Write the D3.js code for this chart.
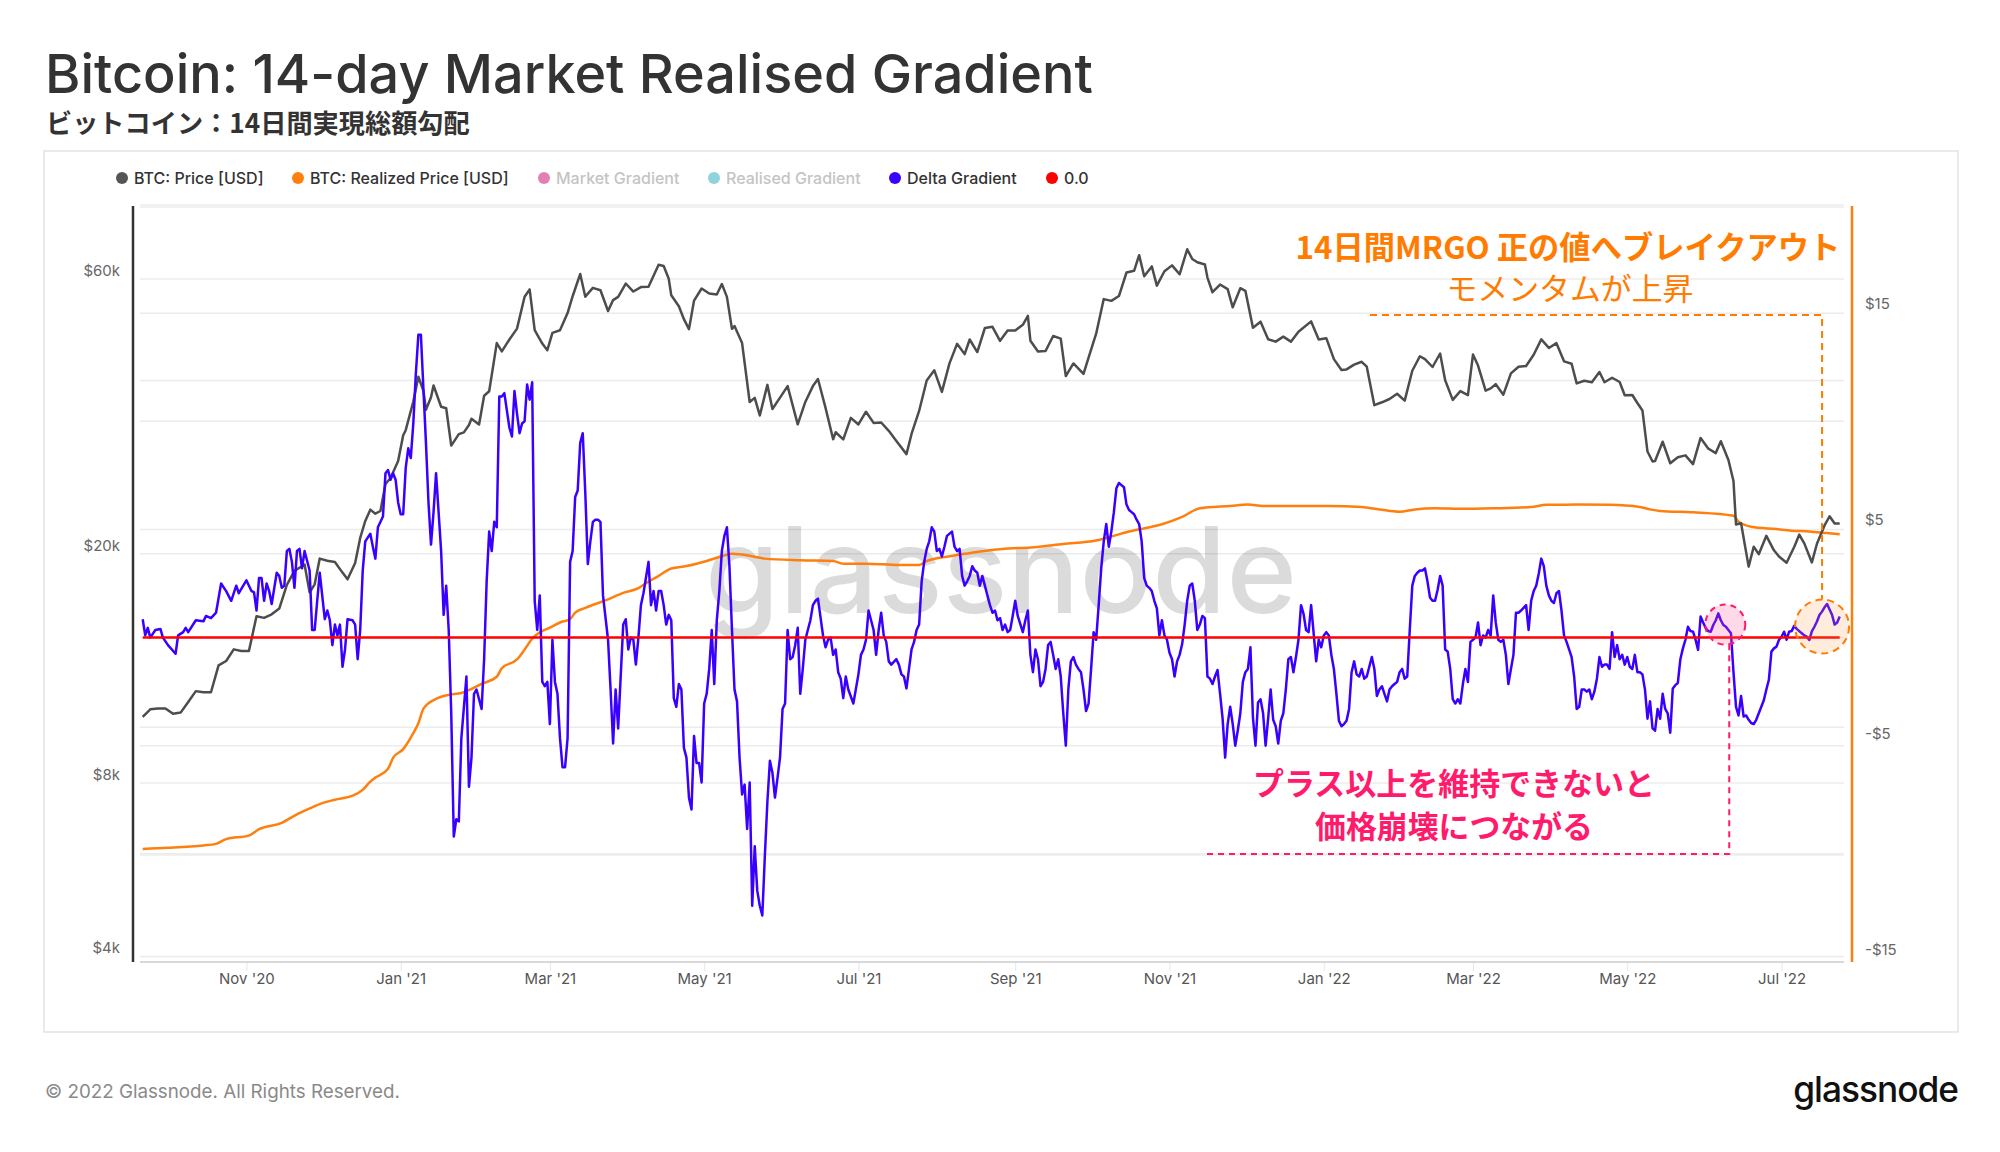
<!DOCTYPE html>
<html><head><meta charset="utf-8">
<script src="https://cdn.jsdelivr.net/npm/d3@7"></script>
<style>body{margin:0;background:#fff;} svg{display:block}</style>
</head><body>
<svg id="chart" width="2000" height="1152"></svg>
<script>
// ---------------- DATA ----------------
const startDate = "2020-09-21";
const endDay = 671;

const titleText = "Bitcoin: 14-day Market Realised Gradient";
const subtitleText = "ビットコイン：14日間実現総額勾配";
const legendLabels = ["BTC: Price [USD]", "BTC: Realized Price [USD]", "Market Gradient", "Realised Gradient", "Delta Gradient", "0.0"];
const legendColors = ["#555555", "#ff7f0e", "#d6579a", "#6ac5d2", "#3a00ff", "#ff0000"];
const legendActive = [true, true, false, false, true, true];

const leftTickValues = [4000, 8000, 20000, 60000];
const leftGridValues = [4000, 6000, 8000, 10000, 20000, 40000, 60000, 80000];
const rightTickValues = [-15, -5, 5, 15];
const rightGridValues = [-15, -10, -5, 0, 5, 10, 15, 20];

const priceSeries = [
["2020-09-21",10420],["2020-09-24",10740],["2020-09-27",10780],["2020-09-30",10780],["2020-10-03",10550],["2020-10-06",10600],
["2020-10-09",11060],["2020-10-12",11550],["2020-10-15",11500],["2020-10-18",11500],["2020-10-21",12800],["2020-10-24",13030],
["2020-10-27",13650],["2020-10-30",13560],["2020-11-02",13560],["2020-11-05",15580],["2020-11-08",15480],["2020-11-11",15700],
["2020-11-14",16070],["2020-11-17",17660],["2020-11-20",18680],["2020-11-24",19160],["2020-11-26",17140],["2020-11-28",17700],
["2020-11-30",19620],["2020-12-03",19450],["2020-12-06",19360],["2020-12-09",18550],["2020-12-11",18060],["2020-12-14",19270],
["2020-12-16",21310],["2020-12-18",22800],["2020-12-20",23860],["2020-12-22",23480],["2020-12-24",23730],["2020-12-26",26440],
["2020-12-28",27080],["2020-12-31",28990],["2021-01-02",32130],["2021-01-03",32780],["2021-01-06",36770],["2021-01-08",40580],
["2021-01-10",38360],["2021-01-11",35570],["2021-01-13",37400],["2021-01-14",39190],["2021-01-17",36000],["2021-01-19",35790],
["2021-01-21",30820],["2021-01-24",32270],["2021-01-26",32500],["2021-01-28",33470],["2021-01-29",34320],["2021-02-01",33540],
["2021-02-03",37620],["2021-02-05",38300],["2021-02-08",46430],["2021-02-10",44920],["2021-02-13",47110],["2021-02-16",49200],
["2021-02-19",55890],["2021-02-21",57540],["2021-02-23",48890],["2021-02-26",46340],["2021-02-28",45140],["2021-03-02",48380],
["2021-03-05",48880],["2021-03-08",52360],["2021-03-10",56000],["2021-03-13",61200],["2021-03-15",55900],["2021-03-18",57900],
["2021-03-21",57350],["2021-03-24",52780],["2021-03-26",55140],["2021-03-28",55860],["2021-03-31",58920],["2021-04-03",57060],
["2021-04-06",58080],["2021-04-09",58140],["2021-04-13",63500],["2021-04-15",63200],["2021-04-17",60050],["2021-04-18",56200],
["2021-04-21",53800],["2021-04-23",51090],["2021-04-25",49100],["2021-04-27",55030],["2021-04-30",57750],["2021-05-03",56620],
["2021-05-06",56400],["2021-05-08",58800],["2021-05-10",55860],["2021-05-12",49150],["2021-05-13",49720],["2021-05-16",46430],
["2021-05-19",36690],["2021-05-21",37300],["2021-05-23",34770],["2021-05-26",39290],["2021-05-28",35680],["2021-05-31",37330],
["2021-06-03",39100],["2021-06-07",33560],["2021-06-10",36700],["2021-06-13",39100],["2021-06-15",40220],["2021-06-18",35840],
["2021-06-21",31620],["2021-06-22",32510],["2021-06-25",31600],["2021-06-28",34430],["2021-07-01",33540],["2021-07-04",35290],
["2021-07-07",33750],["2021-07-10",33800],["2021-07-13",32700],["2021-07-16",31400],["2021-07-20",29790],["2021-07-22",32290],
["2021-07-25",35400],["2021-07-28",39990],["2021-07-31",41640],["2021-08-03",38200],["2021-08-06",42820],["2021-08-09",46290],
["2021-08-12",44430],["2021-08-14",47100],["2021-08-17",44800],["2021-08-20",49320],["2021-08-23",49550],["2021-08-26",46850],
["2021-08-29",48810],["2021-09-01",48850],["2021-09-04",49950],["2021-09-06",51770],["2021-09-07",46870],["2021-09-10",44900],
["2021-09-13",44990],["2021-09-16",47770],["2021-09-19",47260],["2021-09-21",40700],["2021-09-24",42800],["2021-09-28",41050],
["2021-09-30",43800],["2021-10-03",48200],["2021-10-06",55360],["2021-10-09",54970],["2021-10-12",56040],["2021-10-15",61570],
["2021-10-18",61980],["2021-10-20",65990],["2021-10-22",60650],["2021-10-25",63080],["2021-10-27",58420],["2021-10-30",61890],
["2021-11-02",63350],["2021-11-05",61130],["2021-11-08",67550],["2021-11-10",64990],["2021-11-12",64150],["2021-11-15",63570],
["2021-11-16",60340],["2021-11-18",56900],["2021-11-21",58680],["2021-11-24",57600],["2021-11-26",53570],["2021-11-29",57830],
["2021-12-01",57230],["2021-12-04",49370],["2021-12-07",50580],["2021-12-10",47150],["2021-12-13",46700],["2021-12-16",47640],
["2021-12-19",46700],["2021-12-22",48600],["2021-12-27",50640],["2021-12-30",47120],["2022-01-02",47350],["2022-01-05",43550],
["2022-01-08",41700],["2022-01-10",41800],["2022-01-13",42600],["2022-01-16",43090],["2022-01-18",42250],["2022-01-21",36230],
["2022-01-24",36650],["2022-01-27",37130],["2022-01-30",37920],["2022-02-02",36900],["2022-02-05",41570],["2022-02-08",44050],
["2022-02-10",43560],["2022-02-13",42200],["2022-02-16",44540],["2022-02-18",40030],["2022-02-21",37000],["2022-02-24",38330],
["2022-02-27",37710],["2022-03-01",44350],["2022-03-03",42450],["2022-03-06",38400],["2022-03-08",38740],["2022-03-10",39400],
["2022-03-13",37780],["2022-03-16",41140],["2022-03-19",42240],["2022-03-22",42370],["2022-03-25",44330],["2022-03-28",47130],
["2022-03-31",45540],["2022-04-03",46420],["2022-04-06",43170],["2022-04-09",42750],["2022-04-11",39530],["2022-04-14",39950],
["2022-04-17",39720],["2022-04-20",41370],["2022-04-22",39710],["2022-04-25",40430],["2022-04-28",39740],["2022-04-30",37700],
["2022-05-03",37730],["2022-05-05",36540],["2022-05-07",35470],["2022-05-09",30100],["2022-05-11",28930],["2022-05-12",28990],
["2022-05-15",31300],["2022-05-18",28720],["2022-05-21",29430],["2022-05-24",29640],["2022-05-27",28620],["2022-05-30",31780],
["2022-06-02",30470],["2022-06-05",29910],["2022-06-07",31370],["2022-06-10",29100],["2022-06-12",26760],["2022-06-13",22490],
["2022-06-15",22600],["2022-06-18",19000],["2022-06-20",20570],["2022-06-22",19970],["2022-06-25",21490],["2022-06-28",20280],
["2022-06-30",19790],["2022-07-03",19300],["2022-07-06",20550],["2022-07-08",21590],["2022-07-10",20850],["2022-07-13",19320],
["2022-07-15",20820],["2022-07-18",22400],["2022-07-20",23240],["2022-07-22",22580],["2022-07-24",22580]
];

// [day since startDate, USD]
const realizedSeries = [
[0,10450],[10,10490],[24,10580],[29,10640],[33,10820],[42,10950],[46,11190],[55,11430],[61,11750],[66,11970],
[71,12170],[76,12300],[83,12450],[87,12670],[90,12980],[92,13130],[97,13460],[99,13870],[103,14200],[107,14800],
[109,15170],[111,15720],[116,16090],[121,16240],[126,16310],[130,16460],[134,16650],[140,16920],[142,17240],[148,17570],
[151,17940],[154,18350],[157,18590],[161,18770],[165,18960],[169,19090],[171,19330],[175,19510],[183,19790],[190,20070],
[196,20250],[199,20440],[204,20710],[209,20990],[215,21080],[223,21270],[229,21450],[233,21540],[241,21450],[246,21360],
[260,21300],[273,21270],[277,21170],[286,21170],[299,21120],[307,21120],[310,21270],[319,21450],[325,21540],[332,21640],
[341,21730],[351,21780],[364,21910],[377,22040],[390,22380],[403,22650],[411,22930],[418,23250],[430,23340],[437,23390],
[443,23340],[456,23340],[469,23340],[482,23300],[489,23210],[497,23120],[503,23210],[511,23250],[521,23230],[534,23250],
[549,23300],[555,23380],[567,23390],[580,23380],[592,23300],[596,23210],[600,23150],[613,23100],[629,22970],[631,22750],
[636,22560],[646,22470],[652,22410],[659,22380],[666,22320],[671,22280]
];

// [day since startDate, delta gradient USD]
const deltaSeries = [
[0,0.85],[1,0.1],[2,0.45],[3,0.0],[5,0.35],[7,0.4],[8,0.0],[10,-0.35],[13,-0.75],[14,0.1],[16,0.25],[17,0.45],[18,0.25],
[21,0.8],[24,0.75],[25,1.0],[27,0.9],[29,1.15],[31,2.5],[33,2.15],[35,1.7],[37,2.4],[38,2.05],[41,2.65],[43,2.15],[44,2.1],
[45,1.25],[46,2.75],[47,2.75],[48,1.7],[49,2.5],[50,2.15],[51,1.55],[53,3.0],[54,2.85],[55,2.3],[56,2.4],[57,4.0],[58,4.1],
[59,3.5],[60,2.3],[61,4.0],[62,4.1],[63,3.2],[64,4.0],[66,3.1],[67,0.35],[68,0.35],[69,1.7],[70,3.0],[72,0.85],[73,1.25],
[74,0.8],[75,-0.35],[76,0.6],[77,0.1],[78,0.6],[79,-1.35],[80,-0.55],[81,0.85],[83,0.8],[84,0.6],[85,-1.0],[86,0.35],[87,3.1],
[88,4.45],[90,4.8],[91,4.2],[92,3.65],[93,5.1],[95,5.6],[96,7.6],[97,7.75],[98,7.3],[99,7.6],[100,7.3],[101,6.25],[102,5.7],
[103,5.7],[104,7.85],[105,8.75],[106,8.3],[107,9.9],[108,12.2],[109,14.0],[110,14.0],[111,11.5],[112,9.0],[113,6.25],[114,4.3],
[115,5.8],[116,7.6],[117,5.8],[118,4.0],[119,1.05],[120,2.4],[121,0.35],[122,-3.5],[123,-9.2],[124,-8.4],[125,-8.5],[126,-4.65],
[128,-1.8],[129,-6.9],[130,-5.55],[131,-2.6],[132,-2.4],[134,-3.3],[135,-1.0],[136,2.6],[137,4.9],[138,4.0],[139,5.35],[140,5.1],
[141,11.15],[142,11.15],[143,11.3],[145,9.7],[146,9.3],[147,11.4],[148,10.35],[149,9.45],[150,9.9],[151,10.0],[152,11.7],[153,11.0],
[154,11.8],[155,1.7],[156,0.35],[157,1.95],[158,-2.05],[159,-2.25],[160,-2.05],[161,-4.0],[162,-0.1],[163,-2.05],[164,-2.6],
[165,-4.65],[166,-6.0],[167,-6.0],[168,-4.65],[169,3.5],[170,4.0],[171,6.5],
[172,6.8],[173,9.0],[174,9.45],[175,6.7],[176,3.4],[177,4.45],[178,5.35],[179,5.45],[180,5.45],[181,5.35],[182,1.95],[184,-0.1],
[185,-2.4],[186,-4.9],[187,-2.4],[188,-4.2],[190,0.6],[191,0.85],[192,-0.55],[193,0.0],[194,-0.1],[195,-1.25],[196,0.0],[197,1.5],
[198,2.05],[200,3.5],[201,1.5],[202,2.15],[203,1.25],[204,2.15],[205,2.15],[206,1.5],[207,0.6],[208,1.05],[209,0.8],[210,-2.8],
[211,-3.2],[212,-2.15],[213,-2.4],[214,-5.1],[215,-5.55],[216,-7.4],[217,-7.95],[218,-4.55],[219,-5.8],[220,-5.8],[221,-6.7],
[222,-3.05],[223,-2.6],[224,-1.45],[225,0.35],[226,-2.15],[227,0.8],[228,2.15],[229,4.0],[230,4.7],[231,5.1],[232,3.3],[233,0.35],
[234,-2.4],[235,-2.95],[236,-5.55],[237,-7.25],[238,-6.8],[239,-8.85],[240,-6.7],[241,-12.4],[242,-9.65],[243,-11.7],[244,-12.4],
[245,-12.85],[246,-10.1],[247,-7.6],[248,-5.7],[249,-6.25],[250,-7.4],[251,-6.5],[252,-5.55],[253,-3.3],[254,-3.05],[255,0.35],
[256,-1.0],[257,-0.9],[258,-0.35],[259,0.45],[260,-2.6],[261,-1.45],[262,-0.1],[264,0.8],[265,1.5],[266,1.7],[267,1.8],[269,0.1],
[270,-0.45],[271,-0.1],[272,0.0],[273,-0.8],[274,-0.55],[275,-1.6],[276,-1.9],[277,-2.8],[278,-1.8],[279,-2.4],[281,-3.05],
[283,-1.7],[284,-0.8],[285,-0.55],[286,-0.1],[287,1.25],[288,0.8],[289,0.35],[290,-0.8],[291,0.35],[292,1.15],[293,0.1],[294,-0.2],
[295,-1.1],[296,-1.25],[298,-1.0],[299,-1.25],[300,-1.7],[301,-1.8],[302,-2.35],[303,-1.45],[304,-0.55],[305,-0.2],[306,0.35],
[307,0.6],[308,2.6],[309,3.5],[310,4.1],[311,4.45],[312,5.1],[313,4.9],[314,4.0],[315,4.1],[316,3.75],[317,4.2],[318,4.7],[320,4.9],
[321,4.2],[322,4.0],[323,4.1],[324,2.85],[325,2.4],[326,2.6],[327,2.85],[328,3.3],[329,3.1],[330,3.0],[331,2.4],[332,2.85],[333,2.4],
[334,1.95],[335,1.5],[336,1.15],[337,1.25],[338,0.8],[339,0.9],[340,0.35],
[341,0.6],[342,0.25],[343,0.35],[344,1.0],[345,1.7],[346,1.0],[348,0.25],[349,0.8],[350,1.25],[351,-0.8],[352,-1.6],[353,-0.55],
[354,-1.0],[355,-2.25],[356,-2.05],[357,-1.45],[358,-0.35],[359,-0.2],[360,-0.8],[361,-1.45],[362,-1.0],[363,-1.8],[364,-3.5],
[365,-5.0],[366,-2.4],[367,-1.1],[368,-0.9],[369,-1.25],[370,-1.45],[371,-1.6],[372,-2.4],[373,-3.4],[374,-3.05],[375,-1.45],
[376,0.25],[377,-0.1],[378,1.5],[379,3.2],[380,4.45],[381,5.25],[382,4.2],[383,4.9],[384,5.8],[385,6.9],[386,7.15],[387,7.05],
[388,6.95],[389,6.15],[390,5.9],[391,5.8],[392,5.7],[393,5.45],[394,5.25],[395,4.45],[396,2.75],[397,2.4],[398,2.3],[399,2.15],
[400,1.7],[401,1.35],[402,0.1],[403,0.8],[404,0.1],[405,-0.1],[406,-0.7],[407,-1.0],[408,-1.8],[409,-1.1],[410,-0.8],[411,-0.3],
[412,0.6],[413,1.7],[414,2.4],[415,2.5],[416,1.7],[417,0.35],[418,0.6],[419,1.0],[420,0.9],[421,-1.8],[422,-1.9],[423,-2.15],
[424,-1.8],[425,-1.5],[426,-2.6],[427,-3.75],[428,-5.55],[429,-4.0],[430,-3.2],[431,-4.0],[432,-5.0],[433,-4.3],[434,-3.5],
[435,-2.05],[436,-1.6],[437,-1.45],[438,-0.45],[439,-3.7],[440,-5.0],[441,-3.0],[442,-2.85],[443,-3.5],[444,-5.0],[445,-3.75],
[446,-2.4],[447,-3.8],[448,-4.1],[449,-4.9],[450,-3.85],[451,-3.5],[452,-2.4],[453,-1.0],[454,-0.9],[455,-1.6],[456,-0.9],
[457,-0.1],[458,1.5],[459,1.1],[460,0.35],[461,0.25],[462,1.5],[464,-1.1],[465,-0.1],[466,-0.45],[467,0.1],[468,0.25],[469,0.1],
[470,-0.8],[471,-1.45],[472,-2.6],[473,-3.85],[474,-4.1],[475,-4.0],[476,-3.85],[477,-3.3],[478,-1.6],[479,-1.1],[480,-1.7],
[481,-1.8],[482,-1.45],[483,-1.9],[484,-1.8],[485,-1.35],[486,-0.9],[487,-1.45],[488,-2.7],[489,-2.4],[490,-2.25],[491,-2.6],
[492,-2.95],[493,-2.4],[494,-2.25],[495,-2.15],[496,-2.05],[497,-1.6],[498,-1.45],[499,-1.9],[500,-1.8],[501,0.35],[502,2.4],
[503,2.85],[504,3.0],[505,3.1],[506,3.1],[507,3.2],[508,2.6],[509,1.85],[510,1.7],[511,1.7],
[512,2.2],[513,2.85],[514,2.4],[515,-0.55],[516,-0.65],[517,-1.45],[518,-2.85],[519,-3.05],[520,-2.85],[521,-3.05],[522,-2.15],
[523,-1.45],[524,-2.05],[525,-0.2],[526,-0.1],[527,0.0],[528,0.7],[529,-0.35],[530,0.1],[531,0.0],[532,0.35],[533,0.1],[534,1.95],
[535,0.7],[536,-0.1],[537,-0.2],[538,-0.1],[539,-0.8],[540,-2.15],[541,-1.45],[542,-0.8],[543,1.15],[544,1.15],[545,1.25],[547,1.5],
[548,0.35],[549,1.7],[550,2.15],[551,2.4],[552,2.95],[553,3.65],[554,3.3],[555,2.4],[556,1.95],[557,1.7],[558,1.6],[559,2.05],
[560,2.15],[561,1.25],[562,0.1],[563,-0.2],[564,-0.55],[565,-0.9],[566,-1.8],[567,-3.3],[568,-3.2],[569,-2.4],[570,-2.4],[571,-2.5],
[572,-2.4],[573,-2.85],[574,-2.5],[575,-1.9],[576,-0.9],[577,-1.35],[578,-1.25],[579,-1.25],[580,-1.45],[581,0.25],[582,-0.9],
[583,-0.35],[584,-1.0],[585,-0.8],[586,-1.25],[587,-0.9],[588,-1.35],[589,-1.45],[590,-0.8],[591,-1.6],[592,-1.6],[593,-1.7],
[594,-2.4],[595,-3.75],[596,-2.95],[597,-4.2],[598,-4.3],[599,-3.3],[600,-3.75],[601,-2.6],[602,-3.3],[603,-3.5],[604,-4.4],
[605,-2.35],[606,-2.2],[607,-2.1],[608,-1.0],[609,-0.5],[610,-0.1],[611,0.5],[612,0.3],[613,0.27],[614,-0.1],[615,-0.57],[616,0.97],
[617,0.7],[618,0.44],[619,0.3],[620,0.27],[621,0.58],[622,0.8],[623,1.12],[624,0.8],[625,0.58],[626,0.5],[627,0.35],[628,0.2],
[629,-1.6],[630,-3.2],[631,-3.6],[632,-2.7],[633,-3.65],[634,-3.6],[635,-3.8],[636,-3.95],[637,-4.0],[638,-3.8],[639,-3.5],
[640,-3.2],[641,-2.9],[642,-2.4],[643,-1.95],[644,-0.65],[645,-0.5],[646,-0.42],[647,-0.1],[648,0.04],[649,0.27],[650,-0.1],
[651,0.27],[652,0.3],[653,0.54],[654,0.4],[655,0.3],[656,0.2],[657,0.1],[658,0.04],[659,-0.11],[660,0.3],[661,0.5],[662,0.74],
[663,1.04],[664,1.2],[665,1.4],[666,1.55],[667,1.3],[668,1.04],[669,0.6],[670,0.7],[671,0.97]
];

const zeroSeries = [[0, 0], [671, 0]];

// annotation texts and the values they point to
const breakoutTitle = "14日間MRGO 正の値へブレイクアウト";
const breakoutSub = "モメンタムが上昇";
const breakoutPoint = [666, 0.6];   // circled zone (day, gradient)
const warningLine1 = "プラス以上を維持できないと";
const warningLine2 = "価格崩壊につながる";
const warningPoint = [621, 0.6];
const footerText = "© 2022 Glassnode. All Rights Reserved.";
const logoText = "glassnode";

// ---------------- CHART ----------------
const svg = d3.select("#chart");
const W = 2000, H = 1152;
const t0 = new Date(startDate + "T00:00:00Z").getTime();
const dayToDate = d => new Date(t0 + d * 864e5);
const latin = "Inter, Roboto, 'Noto Sans', sans-serif";
const cjk = "'Noto Sans CJK JP', 'Noto Sans', sans-serif";

function fitWidth(sel, target) {
  const len = sel.node().getComputedTextLength();
  const fs = parseFloat(sel.attr("font-size"));
  sel.attr("font-size", (fs * target / len).toFixed(2));
}

svg.append("rect").attr("width", W).attr("height", H).attr("fill", "#fff");

// title
const title = svg.append("text").attr("x", 45).attr("y", 93)
  .attr("font-family", latin).attr("font-weight", 500).attr("font-size", 49)
  .attr("fill", "#333").text(titleText);
fitWidth(title, 1048);
const sub = svg.append("text").attr("x", 46).attr("y", 133)
  .attr("font-family", cjk).attr("font-weight", 700).attr("font-size", 25)
  .attr("fill", "#333").text(subtitleText);
fitWidth(sub, 424);

// chart box
svg.append("rect").attr("x", 44).attr("y", 151).attr("width", 1914).attr("height", 881)
  .attr("fill", "none").attr("stroke", "#e3e3e3").attr("stroke-width", 1.5);

// legend
const legendX = [122, 298, 544, 714, 895, 1052];
legendLabels.forEach((lab, i) => {
  const g = svg.append("g").attr("transform", `translate(${legendX[i]},178)`);
  g.append("circle").attr("r", 6).attr("fill", legendColors[i]).attr("opacity", legendActive[i] ? 1 : 0.75);
  g.append("text").attr("x", 12).attr("dy", "0.35em").attr("font-family", latin)
    .attr("font-size", 16).attr("font-weight", 500)
    .attr("fill", legendActive[i] ? "#333" : "#c4c4c4").text(lab);
});

// scales
const x = d3.scaleUtc().domain([dayToDate(0), dayToDate(endDay)]).range([142.7, 1839.7]);
const yPrice = d3.scaleLog().domain([4000, 80000]).range([956.4, 207]);
const yDelta = d3.scaleLinear().domain([-15, 20]).range([962, 205]);
const yReal = d3.scaleLinear().domain([6200, 34650]).range([962, 205]);
const plotL = 140, plotR = 1844;

// gridlines
const grid = svg.append("g").attr("stroke", "#ececec").attr("stroke-width", 1.5);
leftGridValues.forEach(v => grid.append("line").attr("x1", plotL).attr("x2", plotR)
  .attr("y1", yPrice(v)).attr("y2", yPrice(v)));
rightGridValues.forEach(v => grid.append("line").attr("x1", plotL).attr("x2", plotR)
  .attr("y1", yDelta(v)).attr("y2", yDelta(v)));

// x axis
const xTicks = x.ticks(d3.utcMonth.every(2));
const xAxis = svg.append("g").attr("transform", "translate(0,962)")
  .call(d3.axisBottom(x).tickValues(xTicks).tickFormat(d3.utcFormat("%b '%y")).tickSize(9).tickPadding(2));
xAxis.select(".domain").remove();
xAxis.selectAll(".tick line").attr("stroke", "#e6e6e6");
xAxis.selectAll("text").attr("font-family", latin).attr("font-size", 15).attr("fill", "#555");
svg.append("line").attr("x1", plotL).attr("x2", plotR).attr("y1", 962).attr("y2", 962)
  .attr("stroke", "#d8d8d8").attr("stroke-width", 2);

// left axis
const yAxisL = svg.append("g").attr("transform", "translate(133,0)")
  .call(d3.axisLeft(yPrice).tickValues(leftTickValues).tickSize(0).tickPadding(13)
    .tickFormat(v => "$" + d3.format("~s")(v)));
yAxisL.select(".domain").remove();
yAxisL.selectAll("text").attr("font-family", latin).attr("font-size", 15).attr("fill", "#666").attr("dy", "-0.25em");
svg.append("line").attr("x1", 133).attr("x2", 133).attr("y1", 206).attr("y2", 962)
  .attr("stroke", "#333").attr("stroke-width", 2.5);

// right axis
const yAxisR = svg.append("g").attr("transform", "translate(1852,0)")
  .call(d3.axisRight(yDelta).tickValues(rightTickValues).tickSize(0).tickPadding(13)
    .tickFormat(v => (v < 0 ? "-$" : "$") + Math.abs(v)));
yAxisR.select(".domain").remove();
yAxisR.selectAll("text").attr("font-family", latin).attr("font-size", 15).attr("fill", "#666")
  .attr("dy", v => v < 0 ? "-0.5em" : "-0.3em");
svg.append("line").attr("x1", 1852).attr("x2", 1852).attr("y1", 206).attr("y2", 962)
  .attr("stroke", "#ff7f0e").attr("stroke-width", 2.5);

// watermark
const wm = svg.append("text").attr("x", 1001).attr("y", 613).attr("text-anchor", "middle")
  .attr("font-family", latin).attr("font-weight", 500).attr("font-size", 120)
  .attr("fill", "#000").attr("fill-opacity", 0.14).text("glassnode");
fitWidth(wm, 592);

// lines
const linePrice = d3.line().x(d => x(new Date(d[0] + "T00:00:00Z"))).y(d => yPrice(d[1]));
const lineReal = d3.line().x(d => x(dayToDate(d[0]))).y(d => yReal(d[1])).curve(d3.curveMonotoneX);
const lineDelta = d3.line().x(d => x(dayToDate(d[0]))).y(d => yDelta(d[1]));

svg.append("path").datum(realizedSeries).attr("d", lineReal).attr("fill", "none")
  .attr("stroke", "#ff7f0e").attr("stroke-width", 2.5);
svg.append("path").datum(priceSeries).attr("d", linePrice).attr("fill", "none")
  .attr("stroke", "#4d4d4d").attr("stroke-width", 2.5).attr("stroke-linejoin", "round");
svg.append("path").datum(deltaSeries).attr("d", lineDelta).attr("fill", "none")
  .attr("stroke", "#3a00ff").attr("stroke-width", 2.5).attr("stroke-linejoin", "round");
svg.append("path").datum(zeroSeries).attr("d", lineDelta).attr("fill", "none")
  .attr("stroke", "#ff0000").attr("stroke-width", 2.5);

// annotations: breakout (orange)
const orange = "#ff7c00";
const bx = x(dayToDate(breakoutPoint[0])), by = yDelta(breakoutPoint[1]);
svg.append("circle").attr("cx", bx - 5).attr("cy", by + 2).attr("r", 27)
  .attr("fill", "rgba(255,150,60,0.18)").attr("stroke", orange).attr("stroke-width", 2).attr("stroke-dasharray", "7,5");
svg.append("path").attr("d", `M1370,315 H${bx - 5} V${by - 25}`)
  .attr("fill", "none").attr("stroke", orange).attr("stroke-width", 2).attr("stroke-dasharray", "7,5");
const b1 = svg.append("text").attr("x", 1568).attr("y", 259).attr("text-anchor", "middle")
  .attr("font-family", cjk).attr("font-weight", 700).attr("font-size", 31).attr("fill", orange).text(breakoutTitle);
fitWidth(b1, 545);
const b2 = svg.append("text").attr("x", 1570).attr("y", 300).attr("text-anchor", "middle")
  .attr("font-family", cjk).attr("font-weight", 400).attr("font-size", 30).attr("fill", orange).text(breakoutSub);
fitWidth(b2, 247);

// annotations: warning (pink)
const pink = "#ff1a6b";
const wx = x(dayToDate(warningPoint[0])), wy = yDelta(warningPoint[1]);
svg.append("circle").attr("cx", wx + 12).attr("cy", wy).attr("r", 20)
  .attr("fill", "rgba(255,80,150,0.22)").attr("stroke", pink).attr("stroke-width", 2).attr("stroke-dasharray", "6,5");
svg.append("path").attr("d", `M1207,854 H${wx + 16} V${wy + 20}`)
  .attr("fill", "none").attr("stroke", pink).attr("stroke-width", 2).attr("stroke-dasharray", "6,5");
const w1 = svg.append("text").attr("x", 1454).attr("y", 795).attr("text-anchor", "middle")
  .attr("font-family", cjk).attr("font-weight", 700).attr("font-size", 31).attr("fill", pink).text(warningLine1);
fitWidth(w1, 402);
const w2 = svg.append("text").attr("x", 1454).attr("y", 838).attr("text-anchor", "middle")
  .attr("font-family", cjk).attr("font-weight", 700).attr("font-size", 31).attr("fill", pink).text(warningLine2);
fitWidth(w2, 278);

// footer
const ft = svg.append("text").attr("x", 45).attr("y", 1098).attr("font-family", latin)
  .attr("font-size", 18).attr("fill", "#8a8a8a").text(footerText);
fitWidth(ft, 355);
const lg = svg.append("text").attr("x", 1958).attr("y", 1102).attr("text-anchor", "end")
  .attr("font-family", latin).attr("font-weight", 500).attr("font-size", 36).attr("fill", "#111")
  .attr("letter-spacing", -1).text(logoText);
fitWidth(lg, 165);
</script>
</body></html>
